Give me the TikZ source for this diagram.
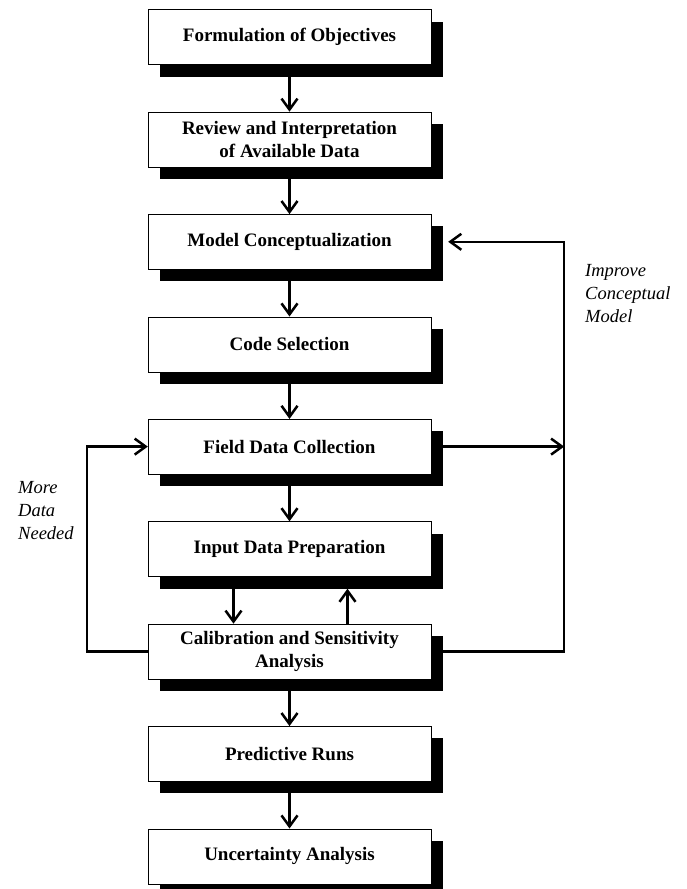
\documentclass[tikz,border=0pt]{standalone}
\usepackage{fontspec}
\setmainfont{Liberation Serif}
\usepackage{tikz}
\usetikzlibrary{arrows.meta,positioning,shadows}

\begin{document}
\begin{tikzpicture}[
    x=1pt, y=-1pt,
    stepbox/.style={rectangle, draw, thin, fill=white, minimum width=283pt,
                    minimum height=55pt, align=center, inner sep=2pt,
                    font=\fontsize{19}{23}\selectfont\bfseries,
                    drop shadow={shadow xshift=12pt, shadow yshift=-12pt,
                                 fill=black, opacity=1}},
    note/.style={align=left, inner sep=0pt,
                 font=\fontsize{18.5}{23}\selectfont\itshape},
    arrow/.style={-{Straight Barb[length=11pt,width=16pt,line width=2.5pt]},
                  line width=2.5pt},
    node distance=47pt
]
\useasboundingbox (0,0) rectangle (686,889);

\node[stepbox] (objectives) at (289.5,37) {Formulation of Objectives};
\node[stepbox, below=of objectives] (review)
  {Review and Interpretation\\of Available Data};
\node[stepbox, below=of review] (model) {Model Conceptualization};
\node[stepbox, below=of model] (code) {Code Selection};
\node[stepbox, below=of code] (field) {Field Data Collection};
\node[stepbox, below=of field] (input) {Input Data Preparation};
\node[stepbox, below=of input] (calib) {Calibration and Sensitivity\\Analysis};
\node[stepbox, below=of calib] (predict) {Predictive Runs};
\node[stepbox, below=of predict] (uncert) {Uncertainty Analysis};

% main sequence
\draw[arrow] (objectives) -- (review);
\draw[arrow] (review) -- (model);
\draw[arrow] (model) -- (code);
\draw[arrow] (code) -- (field);
\draw[arrow] (field) -- (input);
\draw[arrow] ([xshift=-56pt]input.south) -- ([xshift=-56pt]calib.north);
\draw[arrow] ([xshift=58pt]calib.north) -- ([xshift=58pt,yshift=-12pt]input.south);
\draw[arrow] (calib) -- (predict);
\draw[arrow] (predict) -- (uncert);

% feedback loops
\coordinate[right=133pt of field.east] (junc);
\draw[arrow] (calib.west) -- ++(-61,0) |- (field.west);
\draw[arrow] (field.east) -- (junc);
\draw[arrow] (calib.east) -| (junc) |- ([xshift=17pt]model.east);

\node[note, anchor=north west] (more) at (18,481) {More\\Data\\Needed};
\node[note, anchor=north west] (improve) at (585,264)
  {Improve\\Conceptual\\Model};
\end{tikzpicture}
\end{document}
